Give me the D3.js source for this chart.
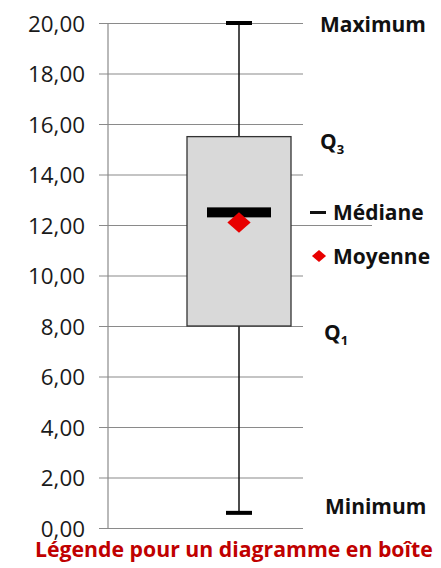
<!DOCTYPE html>
<html>
<head>
<meta charset="utf-8">
<script src="https://cdn.jsdelivr.net/npm/d3@7"></script>
<style>
  body { margin: 0; background: #fff; }
  text { font-family: "Open Sans", Lato, sans-serif; }
</style>
</head>
<body>
<div id="main"></div>
<script>
var width = 441;
var height = 568;

// data
var tickValues = [0, 2, 4, 6, 8, 10, 12, 14, 16, 18, 20];
var statNames = ['Minimum', 'Q1', 'Médiane', 'Q3', 'Maximum'];
var statValues = [0.6, 8, 12.5, 15.5, 20];
var meanValue = 12.1;
var title = 'Légende pour un diagramme en boîte';

var svg = d3.select('#main').append('svg')
    .attr('width', width)
    .attr('height', height);

svg.append('rect').attr('width', width).attr('height', height).attr('fill', '#fff');

var yScale = d3.scaleLinear().domain([0, 20]).range([528, 23]);
var xScale = d3.scaleLinear().domain([0, 1]).range([108, 370]);

var axisX = xScale(0);
var gridRight = 303;
var fmt = function(d) { return d3.format('.2f')(d).replace('.', ','); };

// shrink/grow a text so it spans the width seen in the reference
function fit(sel, target) {
    var node = sel.node();
    var size = parseFloat(sel.style('font-size'));
    var w = node.getComputedTextLength();
    if (w > 0) sel.style('font-size', (size * target / w).toFixed(2) + 'px');
    return size * target / w;
}

// gridlines + tick labels
var yAxis = d3.axisLeft(yScale)
    .tickValues(tickValues)
    .tickSizeInner(-(gridRight - axisX))
    .tickSizeOuter(0)
    .tickPadding(0)
    .tickFormat(fmt);

var gAxis = svg.append('g')
    .attr('transform', `translate(${axisX}, 0)`)
    .call(yAxis);

gAxis.select('.domain').remove();
gAxis.selectAll('.tick line')
    .attr('x1', -9)
    .attr('x2', function(d) { return d === 12 ? 372 - axisX : gridRight - axisX; })
    .attr('stroke', '#8a8a8a')
    .attr('stroke-width', 1.2);
var tickText = gAxis.selectAll('.tick text')
    .attr('x', -23)
    .attr('dy', '0.36em')
    .attr('fill', '#1a1a1a')
    .style('font-size', '20px')
    .style('font-family', '"Open Sans", sans-serif');
var tickSize = fit(gAxis.select('.tick:last-of-type text'), 57);
tickText.style('font-size', tickSize.toFixed(2) + 'px');

// vertical axis line
svg.append('line')
    .attr('x1', axisX).attr('x2', axisX)
    .attr('y1', yScale(20)).attr('y2', yScale(0))
    .attr('stroke', '#8a8a8a').attr('stroke-width', 1.2);

var cx = xScale(0.5);
var boxW = 104;
var capW = 26;
var vMin = statValues[0], q1 = statValues[1], med = statValues[2], q3 = statValues[3], vMax = statValues[4];

// whisker
svg.append('line')
    .attr('x1', cx).attr('x2', cx)
    .attr('y1', yScale(vMax)).attr('y2', yScale(vMin))
    .attr('stroke', '#111').attr('stroke-width', 1.5);

[vMin, vMax].forEach(function(v) {
    svg.append('rect')
        .attr('x', cx - capW / 2).attr('y', yScale(v) - 2)
        .attr('width', capW).attr('height', 4)
        .attr('fill', '#000');
});

// box
svg.append('rect')
    .attr('x', cx - boxW / 2)
    .attr('y', yScale(q3))
    .attr('width', boxW)
    .attr('height', yScale(q1) - yScale(q3))
    .attr('fill', '#d9d9d9')
    .attr('stroke', '#333')
    .attr('stroke-width', 1.3);

// median bar
svg.append('rect')
    .attr('x', cx - 32).attr('y', yScale(med) - 5)
    .attr('width', 64).attr('height', 10)
    .attr('fill', '#000');

// mean diamond
var diamond = d3.symbol().type(d3.symbolSquare).size(270);
svg.append('path')
    .attr('d', diamond())
    .attr('transform', `translate(${cx}, ${yScale(meanValue)}) scale(1, 0.88) rotate(45)`)
    .attr('fill', '#e80000');

// right-hand labels
var lab = svg.append('g').style('font-weight', 'bold').style('font-size', '20px').attr('fill', '#111');

var tMax = lab.append('text').attr('x', 320).attr('y', 24).attr('dy', '0.36em').text(statNames[4]);
var labSize = fit(tMax, 106);
lab.style('font-size', labSize.toFixed(2) + 'px');
tMax.style('font-size', null);

lab.append('text').attr('x', 325).attr('y', 506).attr('dy', '0.36em').text(statNames[0]);

var tq3 = lab.append('text').attr('x', 320).attr('y', 141).attr('dy', '0.36em');
tq3.append('tspan').text('Q');
tq3.append('tspan').attr('dy', 5).style('font-size', '13px').text('3');

var tq1 = lab.append('text').attr('x', 324).attr('y', 332).attr('dy', '0.36em');
tq1.append('tspan').text('Q');
tq1.append('tspan').attr('dy', 5).style('font-size', '13px').text('1');

// median legend
svg.append('rect').attr('x', 310).attr('y', 211).attr('width', 16).attr('height', 3).attr('fill', '#111');
lab.append('text').attr('x', 333).attr('y', 212).attr('dy', '0.36em').text(statNames[2]);

// mean legend
svg.append('path')
    .attr('d', d3.symbol().type(d3.symbolSquare).size(100)())
    .attr('transform', 'translate(319, 256) scale(1, 0.85) rotate(45)')
    .attr('fill', '#e80000');
lab.append('text').attr('x', 333).attr('y', 256).attr('dy', '0.36em').text('Moyenne');

// title
var tTitle = svg.append('text')
    .attr('x', 35).attr('y', 557)
    .attr('fill', '#c00000')
    .style('font-weight', 'bold')
    .style('font-size', '20px')
    .text(title);
fit(tTitle, 398);
</script>
</body>
</html>
